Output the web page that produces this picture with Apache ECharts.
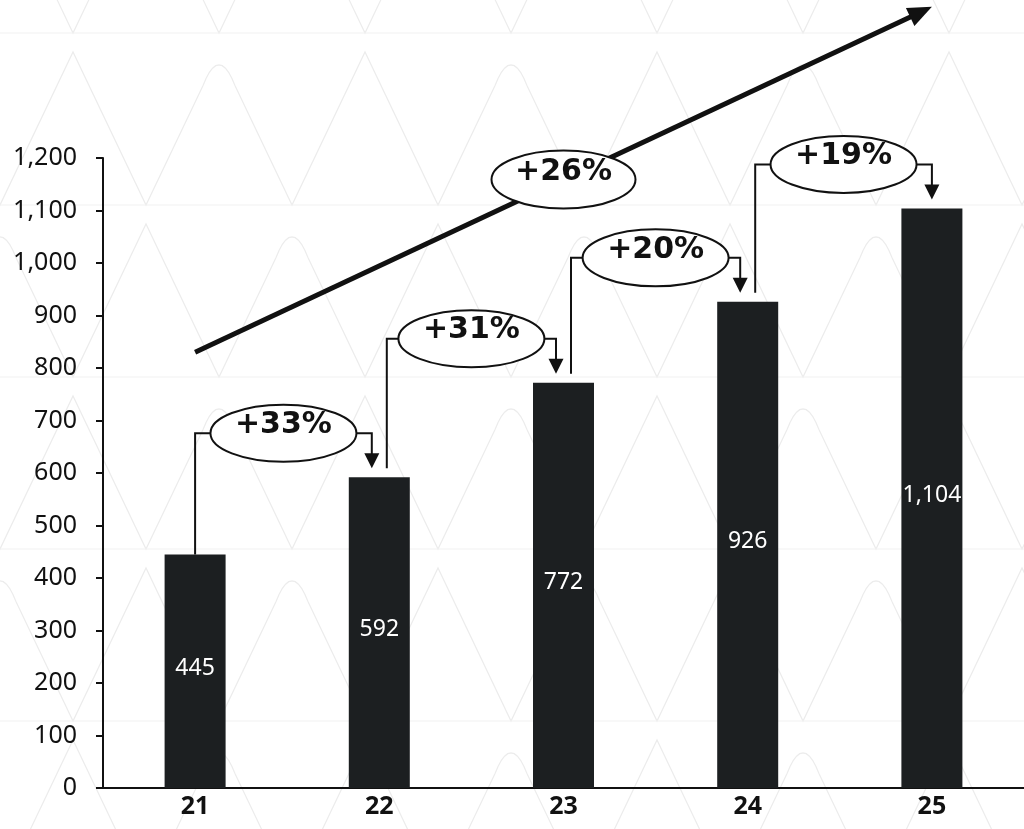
<!DOCTYPE html>
<html>
<head>
<meta charset="utf-8">
<script src="https://cdn.jsdelivr.net/npm/echarts@6/dist/echarts.min.js"></script>
<style>
  html, body { margin: 0; padding: 0; background: #ffffff; }
  #chart { width: 1024px; height: 829px; }
</style>
</head>
<body>
<div id="chart"></div>
<script>
// Year labels and revenue per year
const years = ['21', '22', '23', '24', '25'];
const revenue = [445, 592, 772, 926, 1104];
// Year-over-year growth labels (between consecutive bars)
const growthLabels = ['+33%', '+31%', '+20%', '+19%'];
// Overall trend arrow: label and the values it runs between (first to last year)
const trendLabel = '+26%';
const trendFrom = 830;
const trendTo = 1488;
// Value axis range
const yMin = 0;
const yMax = 1200;
const yStep = 100;

const INK = '#111111';
const BAR = '#1c1f21';
const SANS = '"Noto Sans", "DejaVu Sans", sans-serif';
const fmt = v => Number(v).toLocaleString('en-US');

const chart = echarts.init(document.getElementById('chart'), null, { renderer: 'canvas' });

chart.setOption({
  backgroundColor: '#ffffff',
  animation: false,
  grid: { left: 103, right: 0, top: 158, bottom: 41, containLabel: false },
  xAxis: {
    type: 'category',
    data: years,
    axisLine: { show: true, lineStyle: { color: INK, width: 2 } },
    axisTick: { show: false },
    axisLabel: { color: INK, fontFamily: SANS, fontWeight: 'bold', fontSize: 25, margin: 6 }
  },
  yAxis: {
    type: 'value',
    min: yMin, max: yMax, interval: yStep,
    axisLine: { show: true, lineStyle: { color: INK, width: 2 } },
    axisTick: { show: true, length: 7, lineStyle: { color: INK, width: 2 } },
    splitLine: { show: false },
    axisLabel: { color: INK, fontFamily: SANS, fontSize: 25, margin: 26, formatter: fmt }
  },
  series: [{
    type: 'bar',
    data: revenue,
    barWidth: 61,
    itemStyle: { color: BAR },
    label: {
      show: true, position: 'inside', offset: [0, -3],
      color: '#ffffff', fontFamily: SANS, fontSize: 23,
      formatter: p => fmt(p.value)
    }
  }]
});

// Faint zigzag watermark behind the plot: alternating sharp and rounded peaks
function watermarkLines() {
  const W = 1024, H = 829;
  const half = 73, rise = 153, rowStep = 172;
  const out = [];
  for (let k = -1; k * rowStep < H + rise; k++) {
    const yt = 52 + k * rowStep, yb = yt + rise;
    const shift = (k % 2 === 0 ? 0 : half) - 4 * half;
    const pts = [[shift, yb]];
    let x = shift, peak = 0;
    while (x < W + 2 * half) {
      const ax = x + half;
      if (peak % 2 === 0) {
        pts.push([ax, yt]);
      } else {
        // rounded peak: quadratic curve sampled between the two legs
        const t = 0.22;
        const p0 = [ax - half * t, yt + rise * t], c = [ax, yt - 8], p2 = [ax + half * t, yt + rise * t];
        for (let s = 0; s <= 10; s++) {
          const u = s / 10;
          pts.push([
            (1 - u) * (1 - u) * p0[0] + 2 * u * (1 - u) * c[0] + u * u * p2[0],
            (1 - u) * (1 - u) * p0[1] + 2 * u * (1 - u) * c[1] + u * u * p2[1]
          ]);
        }
      }
      pts.push([x + 2 * half, yb]);
      x += 2 * half;
      peak++;
    }
    out.push({ type: 'polyline', silent: true, z: -10,
               shape: { points: pts },
               style: { fill: null, stroke: '#ececec', lineWidth: 1.2 } });
    out.push({ type: 'line', silent: true, z: -10,
               shape: { x1: 0, y1: yb, x2: W, y2: yb },
               style: { stroke: '#f1f1f1', lineWidth: 1.2 } });
  }
  return out;
}

// Annotation layer: growth connectors and the overall trend arrow
function drawAnnotations() {
  const px = (i, v) => chart.convertToPixel({ gridIndex: 0 }, [i, v]);
  const els = watermarkLines();
  const lineStyle = { stroke: INK, lineWidth: 2, fill: null };
  const rx = 73, ry = 28.5;
  const pctFont = 'bold 30px "DejaVu Sans"';

  // Overall trend arrow
  const a = px(0, trendFrom), b = px(years.length - 1, trendTo);
  const ang = Math.atan2(b[1] - a[1], b[0] - a[0]);
  const headLen = 24, headHalf = 10;
  const ux = Math.cos(ang), uy = Math.sin(ang);
  const base = [b[0] - ux * headLen, b[1] - uy * headLen];
  els.push({ type: 'line', shape: { x1: a[0], y1: a[1], x2: base[0] + ux * 2, y2: base[1] + uy * 2 },
             style: { stroke: INK, lineWidth: 5 }, z: 10 });
  els.push({ type: 'polygon', shape: { points: [
      b,
      [base[0] - uy * headHalf, base[1] + ux * headHalf],
      [base[0] + uy * headHalf, base[1] - ux * headHalf]
    ] }, style: { fill: INK }, z: 10 });
  const tx = px(2, 0)[0];
  const ty = a[1] + (b[1] - a[1]) * ((tx - a[0]) / (b[0] - a[0]));
  els.push({ type: 'ellipse', shape: { cx: tx, cy: ty, rx: 72, ry: 29 },
             style: { fill: '#ffffff', stroke: INK, lineWidth: 2 }, z: 11 });
  els.push({ type: 'text', x: tx, y: ty - 7, style: { text: trendLabel, font: pctFont, fill: INK,
             align: 'center', verticalAlign: 'middle' }, z: 12 });

  // Year-over-year connectors
  for (let i = 0; i < growthLabels.length; i++) {
    const first = i === 0, last = i + 1 === years.length - 1;
    const fromTop = px(i, revenue[i]);
    const toTop = px(i + 1, revenue[i + 1]);
    const sx = fromTop[0] + (first ? 0 : 7.5);
    const sy = fromTop[1] - (first ? 0 : 9);
    const ex = toTop[0] - (last ? 0 : 7.5);
    const tipY = toTop[1] - 9;
    const levelY = toTop[1] - 44;
    const cx = (sx + ex) / 2;
    els.push({ type: 'polyline', shape: { points: [[sx, sy], [sx, levelY], [cx - rx, levelY]] }, style: lineStyle, z: 10 });
    els.push({ type: 'polyline', shape: { points: [[cx + rx, levelY], [ex, levelY], [ex, tipY - 13]] }, style: lineStyle, z: 10 });
    els.push({ type: 'polygon', shape: { points: [[ex - 7.5, tipY - 15], [ex + 7.5, tipY - 15], [ex, tipY]] },
               style: { fill: INK }, z: 10 });
    els.push({ type: 'ellipse', shape: { cx: cx, cy: levelY, rx: rx, ry: ry },
               style: { fill: '#ffffff', stroke: INK, lineWidth: 2 }, z: 11 });
    els.push({ type: 'text', x: cx, y: levelY - 8, style: { text: growthLabels[i], font: pctFont, fill: INK,
               align: 'center', verticalAlign: 'middle' }, z: 12 });
  }
  chart.setOption({ graphic: { elements: els } });
}
drawAnnotations();
</script>
</body>
</html>
